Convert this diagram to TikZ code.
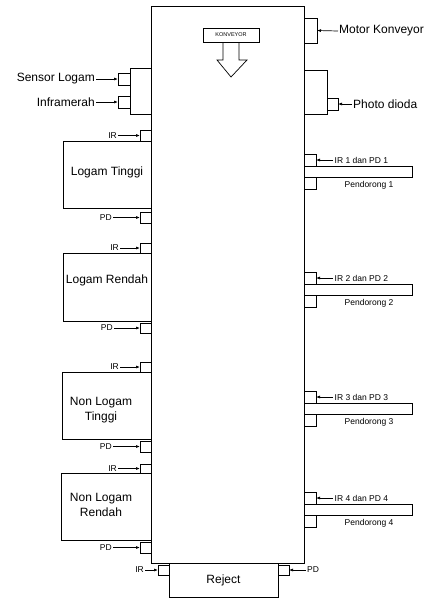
\documentclass[tikz,border=0pt]{standalone}
\usepackage{fontspec}
\setmainfont{Liberation Sans}
\usetikzlibrary{arrows.meta,calc}
\newcommand\mybox[6][]{\node[box,anchor=north west,minimum width=#5pt,minimum height=#6pt,#1] (#2) at (#3,#4) {};}
\begin{document}
\begin{tikzpicture}[x=1pt,y=-1pt,
 box/.style={draw, line width=0.9pt, inner sep=0pt, outer sep=0pt},
 arr/.style={-{Latex[length=4pt,width=3pt]}, line width=0.7pt},
 big/.style={font=\fontsize{12}{14.5}\selectfont, inner sep=1pt, align=center},
 sml/.style={font=\fontsize{8.5}{10}\selectfont, inner sep=1.5pt},
 tny/.style={font=\fontsize{8.5}{10}\selectfont, inner sep=1pt}]
\useasboundingbox (0,0) rectangle (428,598);

% main conveyor body
\mybox{main}{151}{6}{153}{557}
\node[box, minimum width=56pt, minimum height=14pt, font=\fontsize{5.5}{6}\selectfont] (kv) at (231,35) {KONVEYOR};
\draw[line width=0.7pt] ($(kv.south)+(-8,0)$) -- ++(0,18) -- ++(-6,0) -- ($(kv.south)+(0,35)$)
  -- ($(kv.south)+(16,18)$) -- ++(-8,0) -- ($(kv.south)+(8,0)$);

% top left sensors
\mybox{sbox}{130}{68}{21}{46}
\mybox{slog}{118}{73}{12}{12}
\mybox{sinf}{118}{96}{12}{12}
\node[big, anchor=east] (lslog) at (96,79) {Sensor Logam};
\node[big, anchor=east] (lsinf) at (96,102) {Inframerah};
\draw[arr] (lslog.east) -- (slog.west);
\draw[arr] (lsinf.east) -- (sinf.west);

% top right motor and photo diode
\mybox{motor}{304}{18}{13}{25}
\node[big, anchor=west] (lmotor) at (338,31) {Motor Konveyor};
\draw[arr] (lmotor.west) -- (motor.east);
\mybox{pdbox}{304}{70}{23}{44}
\mybox{pdsm}{327}{98}{11}{12}
\node[big, anchor=west] (lpd) at (352,104) {Photo dioda};
\draw[arr] (lpd.west) -- (pdsm.east);

% left bins
\mybox{ltir}{140}{130}{11}{11}
\mybox{lt}{63}{141}{88}{67}
\mybox{ltpd}{140}{212}{11}{11}
\node[big] (tlt) at (107,172) {Logam Tinggi};
\node[tny, anchor=east] (iltir) at (118,135.5) {IR};
\node[tny, anchor=east] (iltpd) at (113,217.5) {PD};
\draw[arr] (iltir.east) -- (ltir.west);
\draw[arr] (iltpd.east) -- (ltpd.west);

\mybox{lrir}{140}{243}{11}{10}
\mybox{lr}{63}{253}{88}{68}
\mybox{lrpd}{140}{323}{11}{10}
\node[big] (tlr) at (107,280) {Logam Rendah};
\node[tny, anchor=east] (ilrir) at (120,248) {IR};
\node[tny, anchor=east] (ilrpd) at (114,328) {PD};
\draw[arr] (ilrir.east) -- (lrir.west);
\draw[arr] (ilrpd.east) -- (lrpd.west);

\mybox{ntir}{140}{362}{11}{10}
\mybox{nt}{62}{372}{89}{67}
\mybox{ntpd}{140}{441}{11}{11}
\node[big] (tnt) at (101,410) {Non Logam\\Tinggi};
\node[tny, anchor=east] (intir) at (120,367) {IR};
\node[tny, anchor=east] (intpd) at (113,446.5) {PD};
\draw[arr] (intir.east) -- (ntir.west);
\draw[arr] (intpd.east) -- (ntpd.west);

\mybox{nrir}{140}{464}{11}{9}
\mybox{nr}{61}{473}{90}{67}
\mybox{nrpd}{140}{542}{11}{11}
\node[big] (tnr) at (101,505) {Non Logam\\Rendah};
\node[tny, anchor=east] (inrir) at (118,468.5) {IR};
\node[tny, anchor=east] (inrpd) at (113,547.5) {PD};
\draw[arr] (inrir.east) -- (nrir.west);
\draw[arr] (inrpd.east) -- (nrpd.west);

% reject
\mybox{rej}{169}{563}{109}{34}
\node[big] (trej) at (223.5,580) {Reject};
\mybox{rjir}{158}{565}{11}{10}
\mybox{rjpd}{278}{565}{11}{10}
\node[tny, anchor=east] (irjir) at (145,570) {IR};
\node[tny, anchor=west] (irjpd) at (306,570) {PD};
\draw[arr] (irjir.east) -- (rjir.west);
\draw[arr] (irjpd.west) -- (rjpd.east);

% pushers
\foreach \t/\n in {154/1, 272/2, 391/3, 492/4}{
  \mybox{pt\n}{304}{\t}{12}{12}
  \mybox[]{pr\n}{304}{\t+12}{108}{11}
  \mybox{pb\n}{304}{\t+23}{12}{12}
  \node[sml, anchor=west] (lp\n) at (333,\t+6) {IR \n\ dan PD \n};
  \draw[arr] (lp\n.west) -- (pt\n.east);
  \node[sml] (np\n) at (369,\t+31) {Pendorong \n};
}
\end{tikzpicture}
\end{document}
